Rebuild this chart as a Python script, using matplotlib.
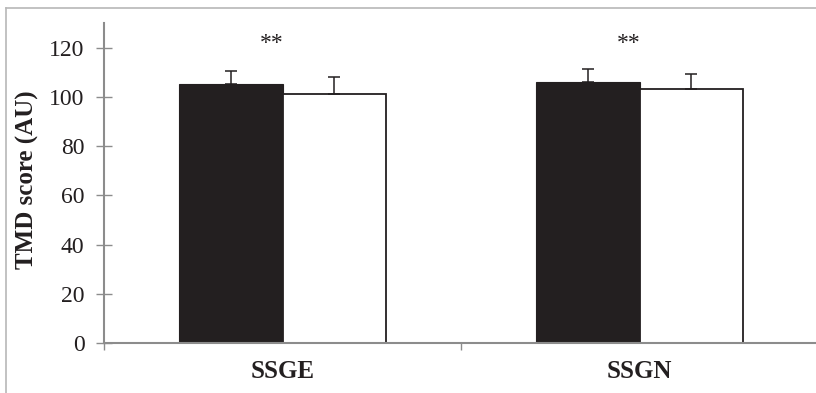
import matplotlib.pyplot as plt
from matplotlib.lines import Line2D
import numpy as np

# TMD scores per group, two conditions each
groups = ["SSGE", "SSGN"]
filled_means = [105.3, 105.9]
filled_err = [5.2, 5.4]
open_means = [101.2, 103.1]
open_err = [7.0, 6.1]
significance = ["**", "**"]

plt.rcParams["font.family"] = ["Liberation Serif", "DejaVu Serif"]

ink = "#231f20"
axis_grey = "#8c8c8c"

fig = plt.figure(figsize=(8.16, 3.93), dpi=100)
ax = fig.add_axes([104 / 816, 50 / 393, 714 / 816, 320 / 393])

x = np.arange(len(groups))
width = 0.29
ax.bar(x - 0.145, filled_means, width, color=ink, edgecolor=ink, linewidth=0.8,
       yerr=[np.zeros(len(groups)), filled_err],
       error_kw=dict(ecolor=ink, elinewidth=1.1, capsize=4, capthick=1.1))
ax.bar(x + 0.145, open_means, width, color="white", edgecolor=ink, linewidth=1.3,
       yerr=[np.zeros(len(groups)), open_err],
       error_kw=dict(ecolor=ink, elinewidth=1.1, capsize=4, capthick=1.1))

for xi, star in zip(x, significance):
    ax.text(xi - 0.03, 121.5, star, ha="center", va="center", fontsize=17, color=ink)

ax.set_xlim(-0.5, 1.5)
ax.set_ylim(0, 130)
ax.set_yticks(range(0, 121, 20))
ax.tick_params(axis="y", direction="inout", length=12, width=1, color=axis_grey,
               labelsize=17, pad=8, labelcolor=ink)
ax.set_xticks(x)
ax.set_xticklabels(groups, fontsize=18, fontweight="bold", color=ink)
ax.tick_params(axis="x", length=0, pad=12)
ax.set_xticks([-0.5, 0.5, 1.5], minor=True)
ax.tick_params(axis="x", which="minor", direction="out", length=5, width=1,
               color=axis_grey)

for side in ["top", "right"]:
    ax.spines[side].set_visible(False)
for side in ["left", "bottom"]:
    ax.spines[side].set_color(axis_grey)
    ax.spines[side].set_linewidth(1.5)

fig.text(27 / 816, 1 - 180 / 393, "TMD score (AU)", rotation=90, ha="center",
         va="center", fontsize=18, fontweight="bold", color=ink)

# chart border, left and top edges
fig.add_artist(Line2D([6 / 816, 6 / 816], [0, 1 - 8 / 393], transform=fig.transFigure,
                      color="#b8b8b8", linewidth=1.2))
fig.add_artist(Line2D([6 / 816, 1], [1 - 8 / 393, 1 - 8 / 393], transform=fig.transFigure,
                      color="#b8b8b8", linewidth=1.2))

fig.savefig("out.png", dpi=100)
